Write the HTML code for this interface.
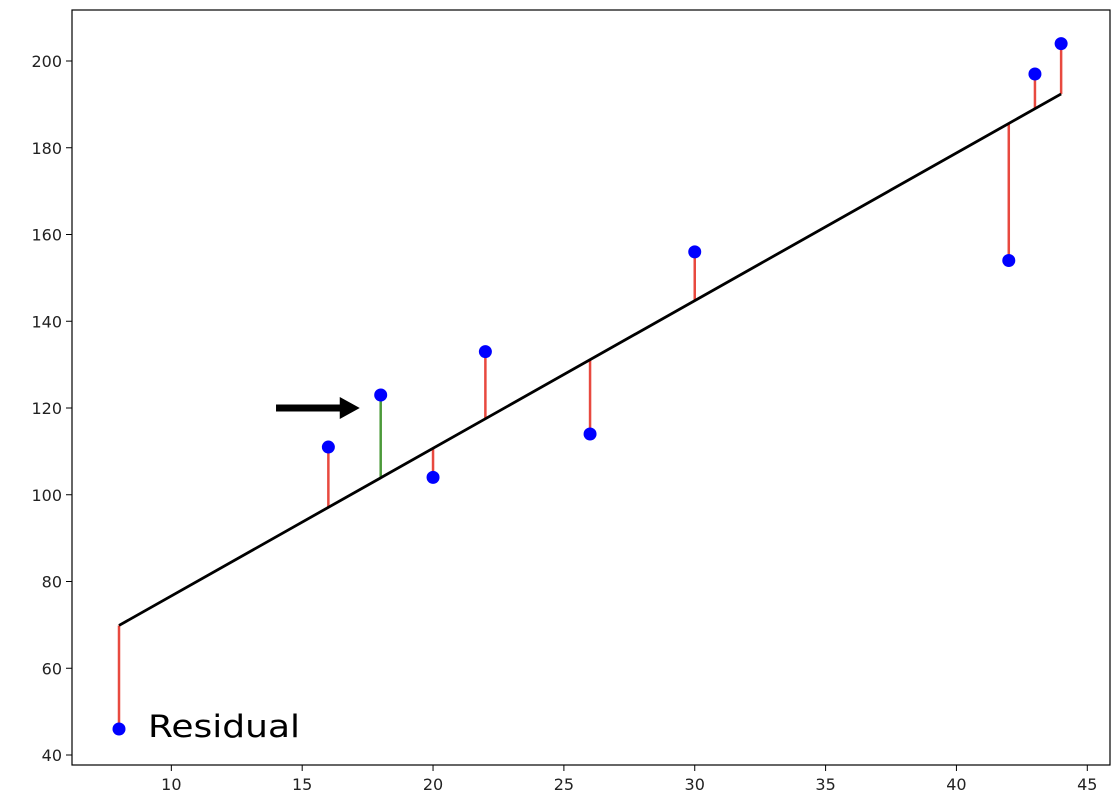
<!DOCTYPE html>
<html><head><meta charset="utf-8"><style>
html,body{margin:0;padding:0;background:#fff;}
svg{display:block;font-family:"DejaVu Sans","Liberation Sans",sans-serif;}
</style></head><body>
<svg id="chart" width="1120" height="810">
<rect x="72" y="10" width="1038" height="755" fill="#fff" stroke="#000" stroke-width="1.2"/>
<g id="ticks"></g>
<g id="marks"></g>
<text x="148" y="737" font-size="31" fill="#000" textLength="152" lengthAdjust="spacingAndGlyphs">Residual</text>
</svg>
<script>
const xs = [8,16,18,20,22,26,30,42,43,44];
const ys = [46,111,123,104,133,114,156,154,197,204];
const highlightIndex = 2;
const xTicks = [10,15,20,25,30,35,40,45];
const yTicks = [40,60,80,100,120,140,160,180,200];
const arrowStart = [14,120];
const arrowEnd = [17.2,120];

const X = v => 119 + (v-8)*26.17;
const Y = v => 755 - (v-40)*4.3375;
const NS = 'http://www.w3.org/2000/svg';
function mk(tag, attrs, parent){const e=document.createElementNS(NS,tag);for(const k in attrs)e.setAttribute(k,attrs[k]);parent.appendChild(e);return e;}

const tg=document.getElementById('ticks');
xTicks.forEach(t=>{
  const l=mk('line',{x1:X(t),x2:X(t),y1:765,y2:771,stroke:'#000'},tg);
  
  
  const tx=mk('text',{x:X(t),y:790,'font-size':16,'text-anchor':'middle',fill:'#222'},tg);
  tx.textContent=t;
  
  
});
yTicks.forEach(t=>{
  const l=mk('line',{x1:66,x2:72,y1:Y(t),y2:Y(t),stroke:'#000'},tg);
  
  
  const tx=mk('text',{x:62,y:Y(t)+6,'font-size':16,'text-anchor':'end',fill:'#222'},tg);
  tx.textContent=t;
  
  
});

const n=xs.length;
const mx=xs.reduce((a,b)=>a+b,0)/n, my=ys.reduce((a,b)=>a+b,0)/n;
let sxy=0,sxx=0;for(let i=0;i<n;i++){sxy+=(xs[i]-mx)*(ys[i]-my);sxx+=(xs[i]-mx)**2;}
const slope=sxy/sxx, icpt=my-slope*mx;
const f=x=>icpt+slope*x;

const mg=document.getElementById('marks');
for(let i=0;i<n;i++){
  const r=mk('line',{x1:X(xs[i]),x2:X(xs[i]),y1:Y(ys[i]),y2:Y(f(xs[i])),stroke:i===highlightIndex?'#4c9a3a':'#e8493f','stroke-width':2.5},mg);
  
  
}
const xmin=Math.min(...xs), xmax=Math.max(...xs);
const fl=mk('line',{x1:X(xmin),x2:X(xmax),y1:Y(f(xmin)),y2:Y(f(xmax)),stroke:'#000','stroke-width':2.8},mg);


for(let i=0;i<n;i++){
  const c=mk('circle',{cx:X(xs[i]),cy:Y(ys[i]),r:6.5,fill:'#0000ff'},mg);
  
  
}
const ax1=X(arrowStart[0]), ay=Y(arrowStart[1]), ax2=X(arrowEnd[0]);
const ar=mk('g',{},mg);


mk('line',{x1:ax1,x2:ax2-16,y1:ay,y2:ay,stroke:'#000','stroke-width':7},ar);
mk('polygon',{points:`${ax2},${ay} ${ax2-20},${ay-11} ${ax2-20},${ay+11}`,fill:'#000'},ar);
</script>
</body></html>
